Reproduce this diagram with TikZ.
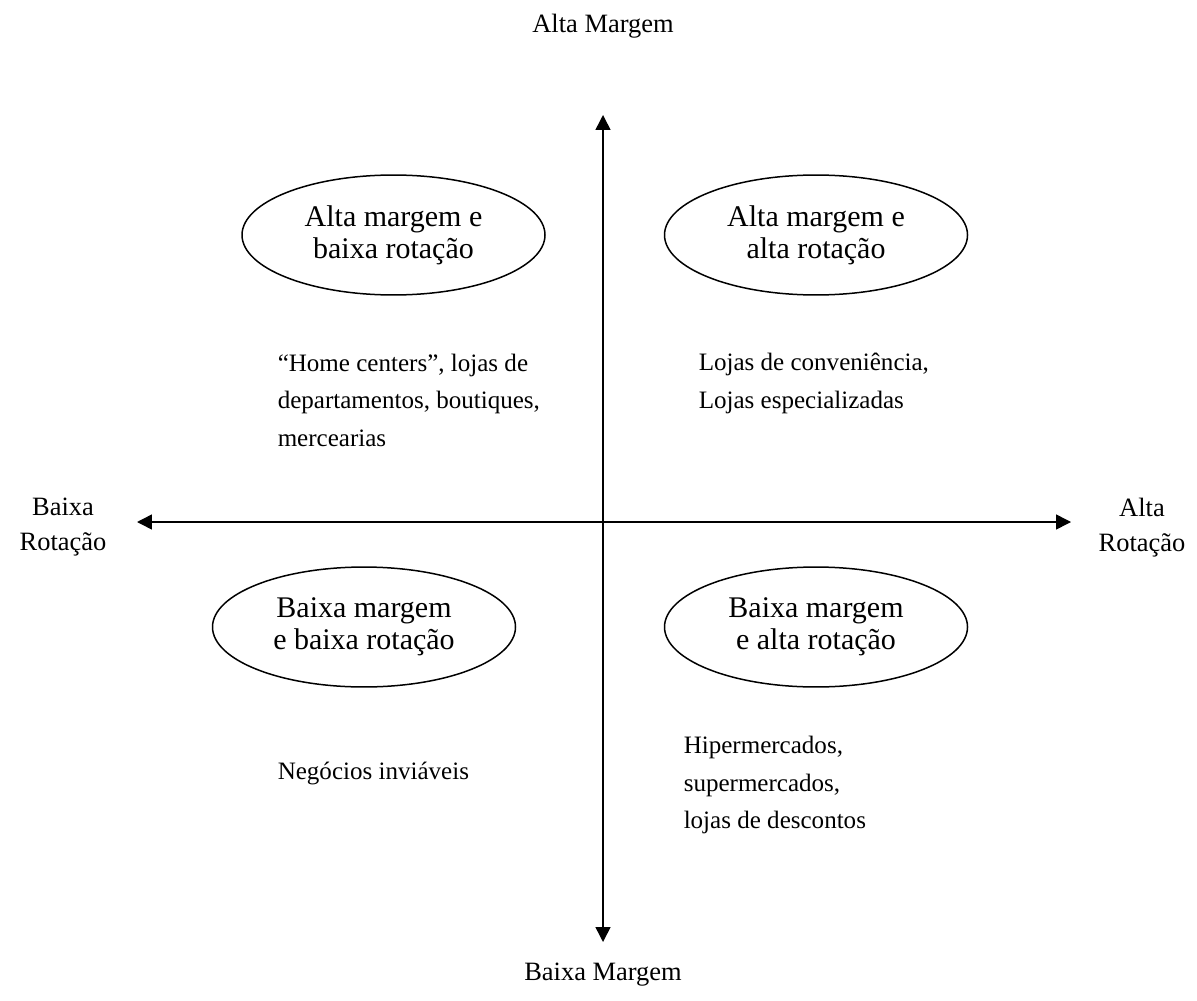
\documentclass[tikz,border=0pt]{standalone}
\usepackage{fontspec}
\setmainfont{Liberation Serif}
\usetikzlibrary{arrows.meta,shapes.geometric}

\tikzset{every picture/.style={line width=0.85pt}}
\tikzset{
  quadrant/.style={draw, ellipse, minimum width=171.8pt, minimum height=68pt, inner sep=0pt, align=center, font=\fontsize{17}{18.2}\selectfont},
  example/.style={anchor=west, align=left, inner sep=0pt, font=\fontsize{14.2}{21.3}\selectfont},
  axislabel/.style={align=center, inner sep=0pt, font=\fontsize{15}{19.8}\selectfont},
  axis/.style={{Triangle[length=8.5pt,width=8.5pt]}-{Triangle[length=8.5pt,width=8.5pt]}}
}

\begin{document}
\begin{tikzpicture}[x=0.567pt,y=0.567pt,yscale=-1,xscale=1]
	\useasboundingbox (0,0) rectangle (1197,1000);

	%Axis ends
	\coordinate (top) at (603,115);
	\coordinate (bottom) at (603,942);
	\coordinate (left) at (137,522);
	\coordinate (right) at (1071,522);

	%Straight Lines (margem)
	\draw [axis] (bottom) -- (top) ;
	%Straight Lines (rotacao)
	\draw [axis] (left) -- (right) ;

	%Shape: Ellipse
	\node [quadrant] (altabaixa) at (393.5,235) {Alta margem e\\baixa rotação};
	%Shape: Ellipse
	\node [quadrant] (altaalta) at (816,235) {Alta margem e\\alta rotação};
	%Shape: Ellipse
	\node [quadrant] (baixabaixa) at (364,627) {Baixa margem\\e baixa rotação};
	%Shape: Ellipse
	\node [quadrant] (baixaalta) at (816,627) {Baixa margem\\e alta rotação};

	% Text Node
	\node [example] (exaltabaixa) at (277,400) {“Home centers”, lojas de\\departamentos, boutiques,\\mercearias};
	% Text Node
	\node [example] (exaltaalta) at (698,383.5) {Lojas de conveniência,\\Lojas especializadas};
	% Text Node
	\node [example] (exbaixabaixa) at (277,773) {Negócios inviáveis};
	% Text Node
	\node [example] (exbaixaalta) at (683,785) {Hipermercados,\\supermercados,\\lojas de descontos};

	% Text Node
	\node [axislabel] (altamargem) at (603,26) {Alta Margem};
	% Text Node
	\node [axislabel] (baixamargem) at (603,975) {Baixa Margem};
	% Text Node
	\node [axislabel] (baixarotacao) at (63,527.5) {Baixa\\Rotação};
	% Text Node
	\node [axislabel] (altarotacao) at (1142,527.5) {Alta\\Rotação};

\end{tikzpicture}
\end{document}
